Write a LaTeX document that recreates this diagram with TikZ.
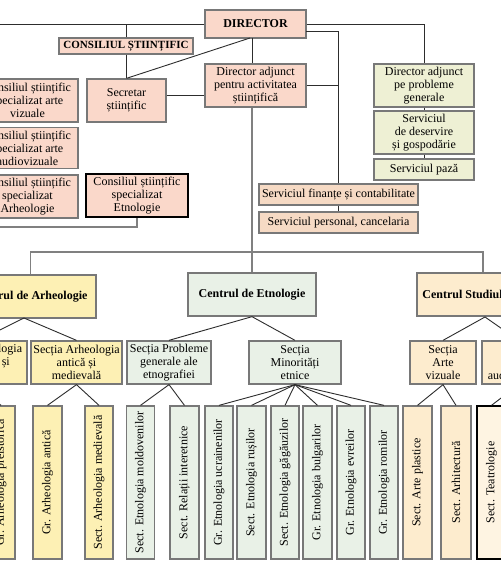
\documentclass[tikz,border=0pt]{standalone}
\usepackage{fontspec}
\usepackage{graphicx}
\setmainfont{Liberation Serif}
\definecolor{salmon}{RGB}{250,216,202}
\definecolor{peach}{RGB}{246,218,196}
\definecolor{khaki}{RGB}{238,240,212}
\definecolor{arhy}{RGB}{253,240,180}
\definecolor{etng}{RGB}{233,241,231}
\definecolor{arto}{RGB}{253,236,206}
\definecolor{bordgray}{RGB}{120,120,120}
\definecolor{linedark}{RGB}{45,45,45}
\definecolor{linegray}{RGB}{128,128,128}
\begin{document}
\begin{tikzpicture}[x=1pt,y=-1pt,
  box/.style={draw=bordgray, line width=1.3pt, inner sep=0pt, align=center,
    font=\fontsize{12}{13}\selectfont, minimum height=43pt},
  bbox/.style={box, font=\fontsize{12}{13}\selectfont\bfseries},
  vbox/.style={box, minimum height=153pt, minimum width=29pt},
  conn/.style={draw=linedark, line width=0.9pt},
  gconn/.style={draw=linegray, line width=1.3pt}]
\useasboundingbox (0,0) rectangle (500,572);
\fill[white] (0,0) rectangle (500,572);

% top management
\node[bbox, fill=salmon, minimum width=101pt, minimum height=28pt] (dir) at (255.5,24) {DIRECTOR};
\node[box, fill=salmon, minimum width=134pt, minimum height=16pt, font=\fontsize{11}{12}\selectfont\bfseries] (cs) at (126,46) {CONSILIUL ȘTIINȚIFIC};
\node[box, fill=salmon, minimum width=79pt] (secr) at (126.5,100.5) {Secretar\\științific};
\node[box, fill=salmon, minimum width=101pt] (dadj) at (255.5,85.5) {Director adjunct\\pentru activitatea\\științifică};
\node[box, fill=khaki, minimum width=100pt] (dapg) at (424,85.5) {Director adjunct\\pe probleme\\generale};
\node[box, fill=khaki, minimum width=100pt] (sdes) at (424,132.5) {Serviciul\\de deservire\\și gospodărie};
\node[box, fill=khaki, minimum width=100pt, minimum height=21pt] (spaz) at (424,169.5) {Serviciul pază};
\node[box, fill=peach, minimum width=159pt, minimum height=21pt] (sfin) at (338.5,194.5) {Serviciul finanțe și contabilitate};
\node[box, fill=peach, minimum width=159pt, minimum height=21pt] (spers) at (338.5,222.5) {Serviciul personal, cancelaria};
\node[box, fill=salmon, minimum width=101pt] (csav) at (27.5,100.5) {Consiliul științific\\specializat arte\\vizuale};
\node[box, fill=salmon, minimum width=101pt, minimum height=41pt] (csaa) at (27.5,148) {Consiliul științific\\specializat arte\\audiovizuale};
\node[box, fill=salmon, minimum width=101pt] (csar) at (27.5,196.5) {Consiliul științific\\specializat\\Arheologie};
\node[box, fill=salmon, draw=black, minimum width=102pt] (cset) at (137,195.5) {Consiliul științific\\specializat\\Etnologie};

% centres
\node[bbox, fill=arhy, minimum width=131pt] (carh) at (30.5,296.5) {Centrul de Arheologie};
\node[bbox, fill=etng, minimum width=128pt] (cetn) at (252,294.5) {Centrul de Etnologie};
\node[bbox, fill=arto, minimum width=132pt] (cart) at (483,294.5) {Centrul Studiul Artelor};

% sections
\node[box, fill=arhy, minimum width=96pt] (spre) at (-21,362.5) {Secția Arheologia\\preistorică și\\timpurie};
\node[box, fill=arhy, minimum width=91pt] (sant) at (76.5,362.5) {Secția Arheologia\\antică și\\medievală};
\node[box, fill=etng, minimum width=84pt] (sprob) at (169,362.5) {Secția Probleme\\generale ale\\etnografiei};
\node[box, fill=etng, minimum width=92pt] (smin) at (295,362.5) {Secția\\Minorități\\etnice};
\node[box, fill=arto, minimum width=66pt] (sviz) at (443,362.5) {Secția\\Arte\\vizuale};
\node[box, fill=arto, minimum width=73pt] (saud) at (518.5,362.5) {Secția\\Arte\\audiovizuale};

% groups
\node[vbox, fill=arhy, minimum width=28pt] (b1) at (1,482.5) {\rotatebox{90}{Gr. Arheologia preistorică}};
\node[vbox, fill=arhy] (b2) at (47.5,482.5) {\rotatebox{90}{Gr. Arheologia antică}};
\node[vbox, fill=arhy, minimum width=28pt] (b3) at (99,482.5) {\rotatebox{90}{Sect. Arheologia medievală}};
\node[vbox, fill=etng, minimum width=28pt] (b4) at (140.5,482.5) {\rotatebox{90}{Sect. Etnologia moldovenilor}};
\node[vbox, fill=etng] (b5) at (184.5,482.5) {\rotatebox{90}{Sect. Relații interetnice}};
\node[vbox, fill=etng, minimum width=28pt] (b6) at (219,482.5) {\rotatebox{90}{Gr. Etnologia ucrainenilor}};
\node[vbox, fill=etng] (b7) at (251.5,482.5) {\rotatebox{90}{Sect. Etnologia rușilor}};
\node[vbox, fill=etng, minimum width=28pt] (b8) at (285,482.5) {\rotatebox{90}{Sect. Etnologia găgăuzilor}};
\node[vbox, fill=etng] (b9) at (317.5,482.5) {\rotatebox{90}{Gr. Etnologia bulgarilor}};
\node[vbox, fill=etng, minimum width=28pt] (b10) at (351,482.5) {\rotatebox{90}{Gr. Etnologia evreilor}};
\node[vbox, fill=etng, minimum width=28pt] (b11) at (384,482.5) {\rotatebox{90}{Gr. Etnologia romilor}};
\node[vbox, fill=arto] (b12) at (417.5,482.5) {\rotatebox{90}{Sect. Arte plastice}};
\node[vbox, fill=arto, minimum width=30pt] (b13) at (456,482.5) {\rotatebox{90}{Sect. Arhitectură}};
\node[vbox, fill=arto!60!white, draw=black] (b14) at (491.5,482.5) {\rotatebox{90}{Sect. Teatrologie}};

% helper coordinates
\coordinate (lft) at (-40,24);
\coordinate (dd) at (250,38);
\coordinate (tr) at (252,38);
\coordinate (d2) at (306,31);
\coordinate (h95) at (0,95);
\coordinate (cl) at (-40,227);
\coordinate (bus) at (0,252);
\coordinate (ca) at (24,318);
\coordinate (cta) at (485,317);

% connectors
\draw[conn] (dir.west) -- (lft);
\draw[conn] (cs.north) -- (cs.north |- dir.west);
\draw[conn] (cs.south) -- (cs.south |- secr.north);
\draw[conn] (dd) -- (secr.north);
\draw[conn] (tr) -- (tr |- dadj.north);
\draw[gconn] (tr |- dadj.south) -- (tr |- cetn.north);
\draw[conn] (dir.east) -| (dapg.north);
\draw[conn] (d2) -| (sfin.north);
\draw[conn] (dadj.east) -- (dadj.east -| sfin.north);
\draw[conn] (sfin.south) -- (spers.north);
\draw[conn] (dapg.south) -- (sdes.north);
\draw[conn] (sdes.south) -- (spaz.north);
\draw[conn] (secr.east |- h95) -- (dadj.west |- h95);
\draw[gconn] (cl) -| (cset.south);
\draw[gconn] (carh.north) |- (bus -| cart.north) -- (cart.north);

\draw[conn] (spre.north) -- (ca) -- (sant.north);
\draw[conn] (sprob.north) -- (cetn.south) -- (smin.north);
\draw[conn] (sviz.north) -- (cta) -- (saud.north);
\draw[conn] (b1.north) -- (spre.south);
\draw[conn] (b2.north) -- (sant.south) -- (b3.north);
\draw[conn] (b4.north) -- (sprob.south) -- (b5.north);
\foreach \b in {b6,b7,b8,b9,b10,b11} \draw[conn] (smin.south) -- (\b.north);
\draw[conn] (b12.north) -- (sviz.south) -- (b13.north);
\draw[conn] (b14.north) -- (saud.south);
\end{tikzpicture}
\end{document}
